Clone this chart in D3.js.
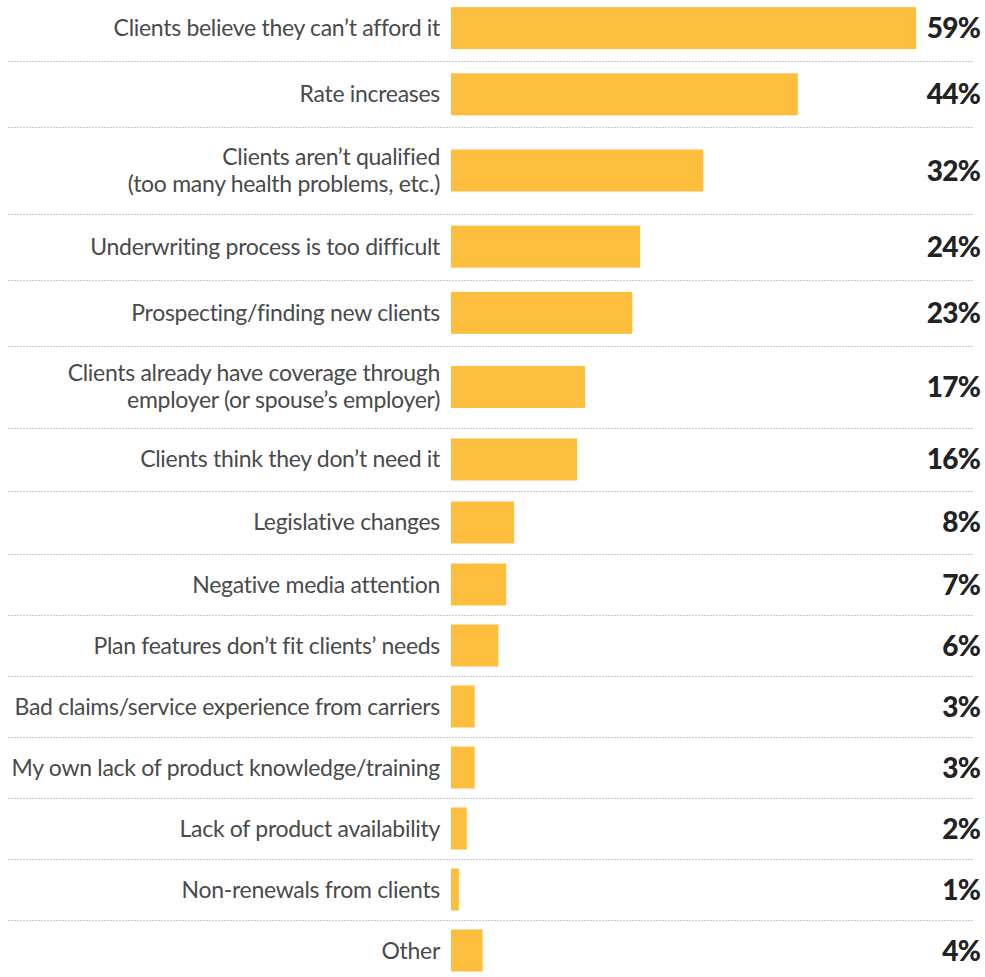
<!DOCTYPE html>
<html>
<head>
<meta charset="utf-8">
<script src="https://cdn.jsdelivr.net/npm/d3@7"></script>
<style>
  html, body { margin: 0; padding: 0; background: #fff; }
  svg { display: block; }
</style>
</head>
<body>
<svg id="chart" width="985" height="977"></svg>
<script>
// Survey responses: obstacles to selling, share of respondents (%)
const categories = [
  "Clients believe they can’t afford it",
  "Rate increases",
  "Clients aren’t qualified\n(too many health problems, etc.)",
  "Underwriting process is too difficult",
  "Prospecting/finding new clients",
  "Clients already have coverage through\nemployer (or spouse’s employer)",
  "Clients think they don’t need it",
  "Legislative changes",
  "Negative media attention",
  "Plan features don’t fit clients’ needs",
  "Bad claims/service experience from carriers",
  "My own lack of product knowledge/training",
  "Lack of product availability",
  "Non-renewals from clients",
  "Other"
];
const values = [59, 44, 32, 24, 23, 17, 16, 8, 7, 6, 3, 3, 2, 1, 4];
const valueLabels = values.map(v => v + "%");

// Layout
const W = 985, H = 977;
const barLeft = 451, barRightMax = 916;
const labelRight = 440, valueRight = 980;
const barHeight = 42;
const lineGap = 27;
const ruleX0 = 8, ruleX1 = 974;

const rows = categories.map((c, i) => ({
  lines: c.split("\n"),
  value: values[i],
  label: valueLabels[i]
}));

// Two-line rows are taller than single-line rows
rows.forEach(r => { r.weight = 1 + 0.3 * (r.lines.length - 1); });
let acc = 0;
rows.forEach(r => { r.start = acc; acc += r.weight; r.end = acc; });
const total = acc;

// Row spacing tightens slightly toward the bottom of the list
const y = d3.scaleLinear()
  .domain([0, rows[4].end, rows[7].end, total])
  .range([-5, 346, 554, 981]);

const x = d3.scaleLinear()
  .domain([0, 59])
  .range([barLeft, barRightMax]);

const svg = d3.select("#chart");

// Dotted separators between rows
svg.append("g")
  .selectAll("line")
  .data(rows.slice(0, -1))
  .join("line")
  .attr("x1", ruleX0)
  .attr("x2", ruleX1)
  .attr("y1", d => Math.round(y(d.end)) + 0.5)
  .attr("y2", d => Math.round(y(d.end)) + 0.5)
  .attr("stroke", "#c8c8c8")
  .attr("stroke-width", 1)
  .attr("stroke-dasharray", "2 1");

const rowG = svg.append("g")
  .selectAll("g")
  .data(rows)
  .join("g")
  .attr("transform", d => `translate(0,${(y(d.start) + y(d.end)) / 2})`);

// Bars
rowG.append("rect")
  .attr("x", x(0))
  .attr("y", -barHeight / 2)
  .attr("width", d => x(d.value) - x(0))
  .attr("height", barHeight)
  .attr("fill", "#FDBE3E");

// Category labels
rowG.append("text")
  .attr("text-anchor", "end")
  .attr("font-family", "Lato, 'Open Sans', sans-serif")
  .attr("font-size", 23)
  .attr("letter-spacing", "-0.3px")
  .attr("fill", "#4a4a4a")
  .selectAll("tspan")
  .data(d => d.lines.map((t, i, arr) => ({ t, i, n: arr.length })))
  .join("tspan")
  .attr("x", labelRight)
  .attr("y", d => (d.i - (d.n - 1) / 2) * lineGap + 8)
  .text(d => d.t);

// Value labels
rowG.append("text")
  .attr("x", valueRight)
  .attr("y", 10)
  .attr("text-anchor", "end")
  .attr("font-family", "Lato, sans-serif")
  .attr("font-weight", 900)
  .attr("font-size", 28)
  .attr("letter-spacing", "-0.8px")
  .attr("fill", "#222")
  .text(d => d.label);
</script>
</body>
</html>
